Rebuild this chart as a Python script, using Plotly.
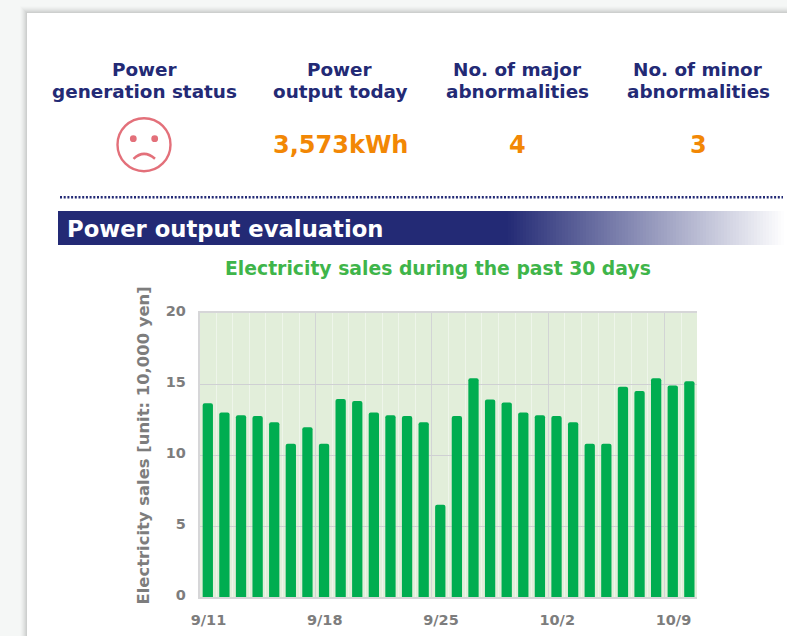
import plotly.graph_objects as go

W, H = 787, 636
dates = ["9/11","9/12","9/13","9/14","9/15","9/16","9/17","9/18","9/19","9/20",
         "9/21","9/22","9/23","9/24","9/25","9/26","9/27","9/28","9/29","9/30",
         "10/1","10/2","10/3","10/4","10/5","10/6","10/7","10/8","10/9","10/10"]
sales = [13.65,13.0,12.8,12.75,12.3,10.8,11.95,10.8,13.95,13.8,
         13.0,12.8,12.75,12.3,6.5,12.75,15.4,13.9,13.7,13.0,
         12.8,12.75,12.3,10.8,10.8,14.8,14.5,15.4,14.9,15.2]
tick_labels = ["9/11","9/18","9/25","10/2","10/9"]
tick_positions = [dates.index(d) - 0.5 for d in tick_labels]
y_ticks = [0,5,10,15,20]
header_top = ["Power","Power","No. of major","No. of minor"]
header_bottom = ["generation status","output today","abnormalities","abnormalities"]
header_x = [144.5,340,517,698]
stat_text = ["3,573kWh","4","3"]
stat_x = [340,517,698]

NAVY = "#232a75"; ORANGE = "#f28705"; GREEN = "#3fb54a"; BAR = "#00ad50"
GREY = "#7d7d7d"; RED = "#e3707a"; FONT = "DejaVu Sans"

def X(p): return p / W
def Y(p): return 1 - p / H

shapes = []
def rect(x0,y0,x1,y1,color,opacity=1,layer="below"):
    shapes.append(dict(type="rect",xref="paper",yref="paper",x0=X(x0),x1=X(x1),y0=Y(y0),y1=Y(y1),
                       fillcolor=color,opacity=opacity,line_width=0,layer=layer))

# page background, card shadow, card
rect(0,0,W,H,"#f5f7f6")
for i in range(7):
    rect(27-7+i,13-7+i,W,H,"#808080",0.02+0.012*i)
rect(27,13,W,H,"#ffffff")
# plot panel
rect(199.5,313,697,597,"#e2eeda")

# dotted rule
shapes.append(dict(type="line",xref="paper",yref="paper",x0=X(60),x1=X(783),y0=Y(197.3),y1=Y(197.3),
                   line=dict(color=NAVY,width=2.4,dash="2px,1.7px")))

# section band with fade-out
rect(58,211,505,245,NAVY)
nr,ng,nb = 0x23,0x2a,0x75
for x in range(505,783,3):
    t = (x-505)/(783-505)
    c = f"rgb({int(nr+(255-nr)*t)},{int(ng+(255-ng)*t)},{int(nb+(255-nb)*t)})"
    rect(x,211,x+3,245,c)

# face
def circle(cx,cy,r,fill=None,lw=0):
    shapes.append(dict(type="circle",xref="paper",yref="paper",x0=X(cx-r),x1=X(cx+r),y0=Y(cy-r),y1=Y(cy+r),
                       fillcolor=fill if fill else "rgba(0,0,0,0)",line=dict(color=RED,width=lw)))
circle(144,144.7,26.5,None,2.4)
circle(133.3,138.7,3.4,RED)
circle(154.7,138.7,3.4,RED)
shapes.append(dict(type="path",xref="paper",yref="paper",
                   path=f"M {X(133.5)} {Y(158.8)} Q {X(144)} {Y(149)} {X(155)} {Y(158.8)}",
                   line=dict(color=RED,width=2.5)))

ann = []
def label(t,x,y,size,color,xanchor="center",angle=0):
    ann.append(dict(text=t,x=X(x),y=Y(y),xref="paper",yref="paper",showarrow=False,
                    xanchor=xanchor,yanchor="middle",textangle=angle,
                    font=dict(family=FONT,size=size,color=color,weight=700)))
for a,b,x in zip(header_top,header_bottom,header_x):
    label(a,x,70,18.4,NAVY)
    label(b,x,91,18.4,NAVY)
for t,x in zip(stat_text,stat_x):
    label(t,x,145,24,ORANGE)
label("Power output evaluation",65,228.5,22.7,"#ffffff","left")
label("Electricity sales during the past 30 days",438.5,268.5,18.8,GREEN)
label("Electricity sales [unit: 10,000 yen]",142.5,446,16.4,GREY,angle=-90)

fig = go.Figure(go.Bar(x=list(range(len(dates))),y=sales,marker=dict(color=BAR,line_width=0,cornerradius=2),
                       width=0.62,hoverinfo="skip"))
fig.update_layout(
    width=W,height=H,margin=dict(l=0,r=0,t=0,b=0),
    paper_bgcolor="#ffffff",plot_bgcolor="#e2eeda",showlegend=False,
    shapes=shapes,annotations=ann,
    xaxis=dict(domain=[X(199.5),X(697)],range=[-0.5,29.46],tickmode="array",automargin=False,
               tickvals=tick_positions,ticktext=tick_labels,ticklabelshift=9,
               tickfont=dict(family=FONT,size=14.5,color=GREY,weight=700),
               showgrid=True,gridcolor="#d2d4d5",gridwidth=1.3,
               minor=dict(tickmode="linear",tick0=-0.5,dtick=1,showgrid=True,gridcolor="#eef5ea",gridwidth=1.3,ticks=""),
               ticks="outside",ticklen=9,tickcolor="rgba(0,0,0,0)",
               showline=True,linecolor="#d6d6d8",linewidth=1.5,mirror=True,zeroline=False),
    yaxis=dict(domain=[Y(597),Y(313)],range=[0,20],tickmode="array",tickvals=y_ticks,automargin=False,
               ticklabelshift=-2,
               tickfont=dict(family=FONT,size=14.5,color=GREY,weight=700),
               showgrid=True,gridcolor="#cfd0d3",gridwidth=1.2,
               ticks="outside",ticklen=9,tickcolor="rgba(0,0,0,0)",
               showline=True,linecolor="#d6d6d8",linewidth=1.5,zeroline=False),
)
fig.write_html("out.html",config=dict(displayModeBar=False),
               post_script="document.body.style.margin='0';document.body.style.overflow='hidden';")
